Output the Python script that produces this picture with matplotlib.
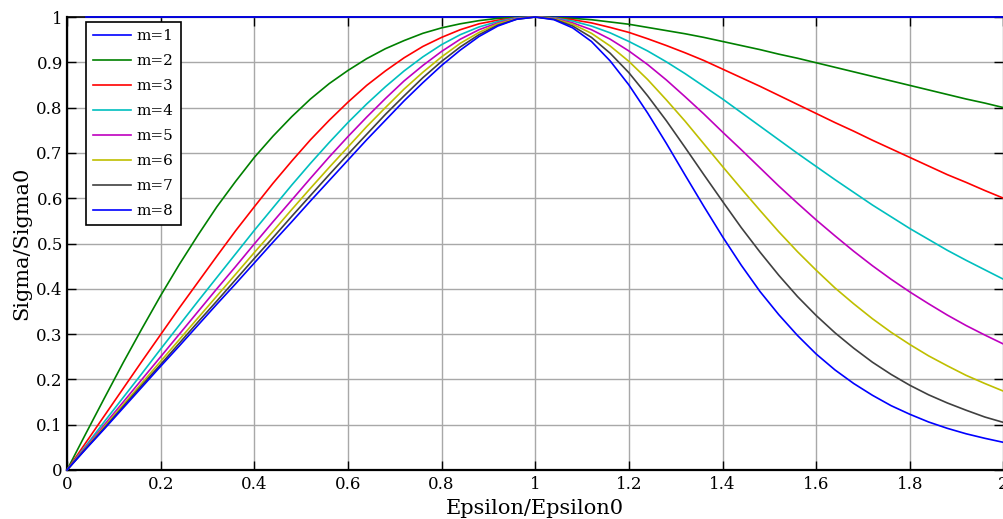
import matplotlib.pyplot as plt
import numpy as np
from matplotlib.ticker import FormatStrFormatter

# Strain ratio samples (Epsilon/Epsilon0)
eps = [0.00, 0.04, 0.08, 0.12, 0.16, 0.20, 0.24, 0.28, 0.32, 0.36,
       0.40, 0.44, 0.48, 0.52, 0.56, 0.60, 0.64, 0.68, 0.72, 0.76,
       0.80, 0.84, 0.88, 0.92, 0.96, 1.00, 1.04, 1.08, 1.12, 1.16,
       1.20, 1.24, 1.28, 1.32, 1.36, 1.40, 1.44, 1.48, 1.52, 1.56,
       1.60, 1.64, 1.68, 1.72, 1.76, 1.80, 1.84, 1.88, 1.92, 1.96,
       2.00]

# Stress ratio (Sigma/Sigma0)
m1 = [np.nan, 1, 1, 1, 1, 1, 1, 1, 1, 1,
      1, 1, 1, 1, 1, 1, 1, 1, 1, 1,
      1, 1, 1, 1, 1, 1, 1, 1, 1, 1,
      1, 1, 1, 1, 1, 1, 1, 1, 1, 1,
      1, 1, 1, 1, 1, 1, 1, 1, 1, 1,
      1]
m2 = [0, 0.080, 0.159, 0.237, 0.312, 0.385, 0.454, 0.519, 0.581, 0.637,
      0.690, 0.737, 0.780, 0.819, 0.853, 0.882, 0.908, 0.930, 0.948, 0.964,
      0.976, 0.985, 0.992, 0.997, 0.999, 1.000, 0.999, 0.997, 0.994, 0.989,
      0.984, 0.977, 0.970, 0.963, 0.955, 0.946, 0.937, 0.928, 0.918, 0.909,
      0.899, 0.889, 0.879, 0.869, 0.859, 0.849, 0.839, 0.829, 0.819, 0.810,
      0.800]
m3 = [0, 0.060, 0.120, 0.180, 0.240, 0.299, 0.358, 0.415, 0.472, 0.528,
      0.581, 0.633, 0.682, 0.729, 0.772, 0.812, 0.849, 0.881, 0.910, 0.935,
      0.955, 0.972, 0.985, 0.993, 0.998, 1.000, 0.998, 0.994, 0.987, 0.977,
      0.966, 0.952, 0.937, 0.921, 0.904, 0.885, 0.866, 0.847, 0.827, 0.807,
      0.787, 0.767, 0.748, 0.728, 0.709, 0.690, 0.671, 0.652, 0.635, 0.617,
      0.600]
m4 = [0, 0.053, 0.107, 0.160, 0.213, 0.267, 0.320, 0.373, 0.425, 0.477,
      0.529, 0.579, 0.629, 0.677, 0.723, 0.767, 0.808, 0.846, 0.881, 0.912,
      0.939, 0.961, 0.978, 0.990, 0.998, 1.000, 0.998, 0.991, 0.980, 0.965,
      0.946, 0.925, 0.901, 0.875, 0.847, 0.819, 0.789, 0.759, 0.729, 0.699,
      0.670, 0.641, 0.613, 0.585, 0.559, 0.533, 0.509, 0.485, 0.463, 0.442,
      0.421]
m5 = [0, 0.050, 0.100, 0.150, 0.200, 0.250, 0.300, 0.350, 0.400, 0.449,
      0.499, 0.548, 0.596, 0.644, 0.691, 0.736, 0.779, 0.820, 0.859, 0.893,
      0.924, 0.951, 0.972, 0.987, 0.997, 1.000, 0.997, 0.987, 0.972, 0.951,
      0.925, 0.895, 0.861, 0.824, 0.786, 0.746, 0.707, 0.667, 0.627, 0.589,
      0.552, 0.517, 0.483, 0.451, 0.421, 0.393, 0.367, 0.342, 0.319, 0.298,
      0.278]
m6 = [0, 0.048, 0.096, 0.144, 0.192, 0.240, 0.288, 0.336, 0.384, 0.432,
      0.480, 0.527, 0.575, 0.622, 0.668, 0.713, 0.758, 0.800, 0.841, 0.878,
      0.912, 0.942, 0.966, 0.985, 0.996, 1.000, 0.996, 0.984, 0.964, 0.936,
      0.902, 0.862, 0.817, 0.770, 0.720, 0.670, 0.621, 0.573, 0.526, 0.482,
      0.441, 0.402, 0.367, 0.334, 0.304, 0.277, 0.252, 0.230, 0.209, 0.191,
      0.174]
m7 = [0, 0.047, 0.093, 0.140, 0.187, 0.233, 0.280, 0.327, 0.373, 0.420,
      0.467, 0.513, 0.560, 0.606, 0.652, 0.697, 0.741, 0.785, 0.826, 0.866,
      0.902, 0.934, 0.961, 0.982, 0.995, 1.000, 0.995, 0.980, 0.955, 0.920,
      0.877, 0.826, 0.771, 0.712, 0.652, 0.593, 0.535, 0.481, 0.430, 0.383,
      0.341, 0.303, 0.269, 0.238, 0.211, 0.187, 0.166, 0.148, 0.132, 0.117,
      0.105]
m8 = [0, 0.046, 0.091, 0.137, 0.183, 0.229, 0.274, 0.320, 0.366, 0.411,
      0.457, 0.503, 0.548, 0.594, 0.639, 0.684, 0.729, 0.772, 0.815, 0.855,
      0.893, 0.927, 0.957, 0.980, 0.995, 1.000, 0.994, 0.976, 0.946, 0.903,
      0.850, 0.788, 0.721, 0.651, 0.582, 0.515, 0.452, 0.394, 0.343, 0.297,
      0.256, 0.221, 0.191, 0.165, 0.142, 0.123, 0.106, 0.092, 0.080, 0.070,
      0.061]

labels = ["m=1", "m=2", "m=3", "m=4", "m=5", "m=6", "m=7", "m=8"]
x_ticks = [0, 0.2, 0.4, 0.6, 0.8, 1.0, 1.2, 1.4, 1.6, 1.8, 2.0]
y_ticks = [0, 0.1, 0.2, 0.3, 0.4, 0.5, 0.6, 0.7, 0.8, 0.9, 1.0]

# MATLAB-style line colours
colors = ["#0000ff", "#008000", "#ff0000", "#00bfbf",
          "#bf00bf", "#bfbf00", "#404040", "#0000ff"]

plt.rcParams["font.family"] = "DejaVu Serif"

fig = plt.figure(figsize=(10.04, 5.19), dpi=100)
ax = fig.add_axes([67 / 1004, 49 / 519, 936.5 / 1004, 453 / 519])

for vals, col, lab in zip([m1, m2, m3, m4, m5, m6, m7, m8], colors, labels):
    ax.plot(eps, vals, color=col, lw=1.2, label=lab, clip_on=False, zorder=3)

ax.set_xlim(0, 2)
ax.set_ylim(0, 1)
ax.set_xticks(x_ticks)
ax.set_yticks(y_ticks)
ax.xaxis.set_major_formatter(FormatStrFormatter("%g"))
ax.yaxis.set_major_formatter(FormatStrFormatter("%g"))
ax.grid(True, color="#a8a8a8", lw=1.0)
ax.set_axisbelow(True)

ax.tick_params(direction="in", length=6.5, width=1, top=True, right=True,
               labelsize=12)
ax.tick_params(axis="x", pad=4)
ax.tick_params(axis="y", pad=3)
for side in ["left", "bottom"]:
    ax.spines[side].set_linewidth(1.6)
ax.spines["top"].set_linewidth(1.2)
ax.spines["right"].set_color("#c8c8c8")

ax.set_xlabel("Epsilon/Epsilon0", fontsize=15, labelpad=5)
ax.set_ylabel("Sigma/Sigma0", fontsize=15, labelpad=4)

leg = ax.legend(loc="upper left", bbox_to_anchor=(0.02, 0.989),
                borderaxespad=0, fontsize=11, labelspacing=0.72,
                handlelength=2.5, handletextpad=0.4, borderpad=0.45,
                fancybox=False, framealpha=1, edgecolor="black")
leg.get_frame().set_linewidth(1.2)
leg.set_zorder(5)

fig.savefig("out.png", dpi=100)
